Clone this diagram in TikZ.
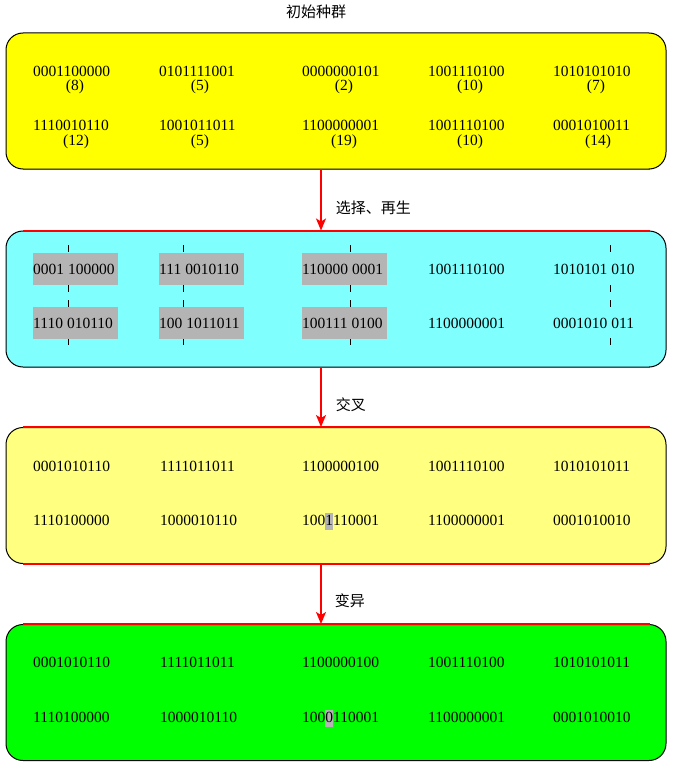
\documentclass[tikz,border=0pt]{standalone}
\usepackage{fontspec}
\setmainfont{Liberation Serif}
\newfontfamily\cjk{Noto Sans CJK SC}
\usepackage{xcolor}
\usetikzlibrary{arrows.meta,positioning}
\definecolor{popyellow}{HTML}{FFFF00}
\definecolor{selcyan}{HTML}{80FFFF}
\definecolor{crossyellow}{HTML}{FFFF80}
\definecolor{mutgreen}{HTML}{00FF00}
\definecolor{cutgray}{HTML}{B4B4B4}
\definecolor{flowred}{HTML}{FF0000}
\tikzset{%
  flowtip/.tip={Stealth[length=12pt, width=10pt, inset=3pt]},
  popbox/.style={draw=black, line width=1pt, rounded corners=17pt, minimum width=660pt, minimum height=136pt, inner sep=0pt},
  rededge/.style={draw=flowred, line width=1.3pt},
  flow/.style={draw=flowred, fill=flowred, line width=1.5pt, -flowtip},
  chrom/.style={anchor=base west, inner sep=0pt, font=\fontsize{15.5}{16}\selectfont},
  fitval/.style={anchor=base, inner sep=0pt, font=\fontsize{15.5}{16}\selectfont},
  cutbox/.style={chrom, fill=cutgray, text width=85pt, align=left, minimum height=32pt},
  cutline/.style={line width=1pt, dash pattern=on 7pt off 33pt on 7pt off 8pt on 7pt off 31pt on 7pt off 40pt},
  steplabel/.style={anchor=west, inner sep=0pt, font=\cjk\fontsize{15}{16}\selectfont}
}
\newcommand{\mutbit}[1]{{\setlength{\fboxsep}{0pt}\colorbox{cutgray}{\rule[-5pt]{0pt}{17pt}#1}}}

\begin{document}
\begin{tikzpicture}[x=1pt,y=-1pt]
	\useasboundingbox (0,0) rectangle (675,765);
	% the four populations
	\node[popbox, fill=popyellow] (initpop) at (336,101) {};
	\node[popbox, fill=selcyan] (selpop) at (336,299) {};
	\node[popbox, fill=crossyellow] (crosspop) at (336,495.5) {};
	\node[popbox, fill=mutgreen] (mutpop) at (336,692.5) {};
	\draw[rededge] ([xshift=17pt]initpop.south west) -- ([xshift=-17pt]initpop.south east);
	\draw[rededge] ([xshift=17pt]selpop.north west) -- ([xshift=-17pt]selpop.north east);
	\draw[rededge] ([xshift=17pt]selpop.south west) -- ([xshift=-17pt]selpop.south east);
	\draw[rededge] ([xshift=17pt]crosspop.north west) -- ([xshift=-17pt]crosspop.north east);
	\draw[rededge] ([xshift=17pt]crosspop.south west) -- ([xshift=-17pt]crosspop.south east);
	\draw[rededge] ([xshift=17pt]mutpop.north west) -- ([xshift=-17pt]mutpop.north east);
	\node[steplabel, anchor=center] (title) at (316,12) {初始种群};
	\draw[flow] ([xshift=-15pt]initpop.south) -- node[steplabel, pos=.62, xshift=14pt] (sellab) {选择、再生} ([xshift=-15pt]selpop.north);
	\draw[flow] ([xshift=-15pt]selpop.south) -- node[steplabel, pos=.62, xshift=14pt] (crosslab) {交叉} ([xshift=-15pt]crosspop.north);
	\draw[flow] ([xshift=-15pt]crosspop.south) -- node[steplabel, pos=.62, xshift=13pt] (mutlab) {变异} ([xshift=-15pt]mutpop.north);
	% initial population
	\node[chrom] (i11) at (33,77) {0001100000};
	\node[chrom] (i12) at (159,77) {0101111001};
	\node[chrom] (i13) at (302,77) {0000000101};
	\node[chrom] (i14) at (428,77) {1001110100};
	\node[chrom] (i15) at (553,77) {1010101010};
	\node[fitval] (if11) at (75,91) {(8)};
	\node[fitval] (if12) at (200,91) {(5)};
	\node[fitval] (if13) at (344,91) {(2)};
	\node[fitval] (if14) at (470,91) {(10)};
	\node[fitval] (if15) at (596,91) {(7)};
	\node[chrom] (i21) at (33,130) {1110010110};
	\node[chrom] (i22) at (159,130) {1001011011};
	\node[chrom] (i23) at (302,130) {1100000001};
	\node[chrom] (i24) at (428,130) {1001110100};
	\node[chrom] (i25) at (553,130) {0001010011};
	\node[fitval] (if21) at (76,145) {(12)};
	\node[fitval] (if22) at (200,145) {(5)};
	\node[fitval] (if23) at (344,145) {(19)};
	\node[fitval] (if24) at (470,145) {(10)};
	\node[fitval] (if25) at (598,145) {(14)};
	% selected pairs, cut points
	\draw[cutline] (68,245) -- (68,345);
	\draw[cutline] (183,245) -- (183,345);
	\draw[cutline] (350,245) -- (350,345);
	\draw[cutline] (610,245) -- (610,345);
	\node[cutbox] (s11) at (33,274) {0001\hspace{4pt}100000};
	\node[cutbox] (s12) at (159,274) {111\hspace{4pt}0010110};
	\node[cutbox] (s13) at (302,274) {110000\hspace{4pt}0001};
	\node[chrom] (s14) at (428,274) {1001110100};
	\node[chrom] (s15) at (553,274) {1010101\hspace{4pt}010};
	\node[cutbox] (s21) at (33,328) {1110\hspace{4pt}010110};
	\node[cutbox] (s22) at (159,328) {100\hspace{4pt}1011011};
	\node[cutbox] (s23) at (302,328) {100111\hspace{4pt}0100};
	\node[chrom] (s24) at (428,328) {1100000001};
	\node[chrom] (s25) at (553,328) {0001010\hspace{4pt}011};
	% after crossover
	\node[chrom] (c11) at (33,471) {0001010110};
	\node[chrom] (c12) at (160,471) {1111011011};
	\node[chrom] (c13) at (302,471) {1100000100};
	\node[chrom] (c14) at (428,471) {1001110100};
	\node[chrom] (c15) at (553,471) {1010101011};
	\node[chrom] (c21) at (33,525) {1110100000};
	\node[chrom] (c22) at (160,525) {1000010110};
	\node[chrom] (c23) at (302,525) {100\mutbit{1}110001};
	\node[chrom] (c24) at (428,525) {1100000001};
	\node[chrom] (c25) at (553,525) {0001010010};
	% after mutation
	\node[chrom] (m11) at (33,667) {0001010110};
	\node[chrom] (m12) at (160,667) {1111011011};
	\node[chrom] (m13) at (302,667) {1100000100};
	\node[chrom] (m14) at (428,667) {1001110100};
	\node[chrom] (m15) at (553,667) {1010101011};
	\node[chrom] (m21) at (33,722) {1110100000};
	\node[chrom] (m22) at (160,722) {1000010110};
	\node[chrom] (m23) at (302,722) {100\mutbit{0}110001};
	\node[chrom] (m24) at (428,722) {1100000001};
	\node[chrom] (m25) at (553,722) {0001010010};
\end{tikzpicture}
\end{document}
